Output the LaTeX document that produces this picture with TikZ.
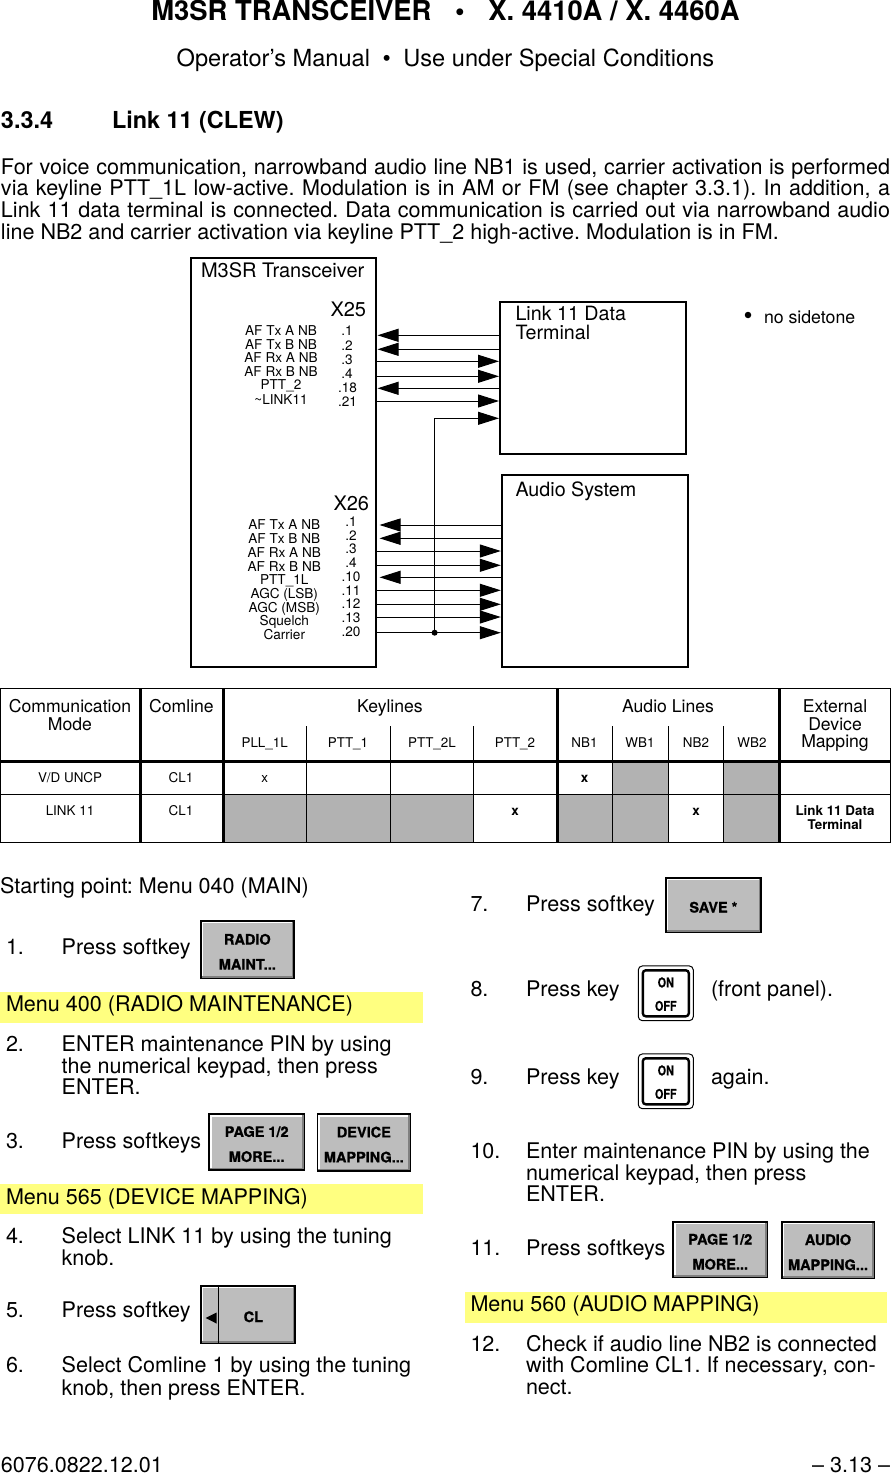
\documentclass[tikz,border=0pt]{standalone}
\usepackage{fontspec}
\usepackage{graphicx}
\setmainfont{TeX Gyre Heros}
\newfontfamily\keyfont[BoldFeatures={FakeBold=1}]{TeX Gyre Heros}
\usetikzlibrary{arrows.meta}
\definecolor{tblgray}{HTML}{B2B2B2}
\definecolor{keygray}{HTML}{BDBDBD}
\definecolor{menuyellow}{HTML}{FFFF80}
\newcommand\fz[1]{\fontsize{#1}{#1}\selectfont}
% name, anchor/style, x, y, text
\newcommand\tx[5]{\node[txt,#2] (#1) at (#3,#4) {#5};}
\newcommand\softkey[6]{\node[softkeybox,minimum width={(#4-#2-1.4)*1pt},minimum height={(#5-#3-1.4)*1pt}] (#1) at ({(#2+#4)/2},{(#3+#5)/2}) {};
  \node[softkeytext] (#1t) at ([yshift=-2.1pt]#1.center) {#6};}
\newcommand\onoff[2]{\node[onoffbox] (#1) at (665.8,#2) {};
  \node[onoffin] (#1i) at (#1.center) {};
  \node[onofftext] (#1t) at ([yshift=-0.9pt]#1.center) {\scalebox{.8}[1]{ON}\\\scalebox{.8}[1]{OFF}};}
\tikzset{
  txt/.style={inner sep=0pt,outer sep=0pt,anchor=base west,text depth=0pt},
  body/.style={font=\fz{21.55}},
  ctr/.style={anchor=base},
  sig/.style={font=\fz{13.6},anchor=base},
  big/.style={font=\fz{19.7}},
  tbl/.style={font=\fz{17.6},anchor=base},
  tsm/.style={font=\fz{13.4},anchor=base},
  tsb/.style={font=\fz{13.4}\bfseries,anchor=base},
  unit/.style={draw=black,line width=2pt,fill=white,inner sep=0pt,outer sep=0pt},
  wire/.style={draw=black,line width=1pt},
  toR/.style={wire,-{Triangle[length=21pt,width=13pt]},shorten >=1.2pt},
  toL/.style={wire,-{Triangle[length=21pt,width=13pt]},shorten >=2pt},
  thin line/.style={draw=black,line width=1pt},
  thick line/.style={draw=black,line width=3pt},
  softkeybox/.style={draw=black,line width=1.6pt,fill=keygray,inner sep=0pt,outer sep=0pt,
    path picture={
      \draw[white,line width=5pt] (path picture bounding box.south west)--(path picture bounding box.north west)--(path picture bounding box.north east);
      \draw[black!50,line width=5pt] (path picture bounding box.south west)--(path picture bounding box.south east)--(path picture bounding box.north east);
    }},
  softkeytext/.style={inner sep=0pt,align=center,font=\fontsize{14.5}{25}\selectfont\keyfont\bfseries},
  onoffbox/.style={draw=black,line width=1pt,rounded corners=4pt,fill=white,inner sep=0pt,outer sep=0pt,
    minimum width=55pt,minimum height=54.7pt},
  onoffin/.style={draw=black,line width=2.4pt,rounded corners=3pt,inner sep=0pt,minimum width=46pt,minimum height=46pt},
  onofftext/.style={inner sep=0pt,align=center,font=\fontsize{13.5}{23.5}\selectfont\keyfont\bfseries},
  band/.style={fill=menuyellow,draw=none},
}
\begin{document}
\frenchspacing
\begin{tikzpicture}[x=1pt,y=-1pt]
\useasboundingbox (0,0) rectangle (891,1474);
% page head
\tx{title}{ctr,font=\fz{27.4}\bfseries}{445.5}{20.5}{M3SR TRANSCEIVER\hspace{16pt} •\hspace{16pt} X. 4410A / X. 4460A}
\tx{sub}{ctr,font=\fz{23.6}}{445.5}{67}{Operator’s Manual\hspace{6pt} •\hspace{6pt} Use under Special Conditions}
\tx{secnum}{font=\fz{23.4}\bfseries}{1}{129}{3.3.4}
\tx{sectitle}{font=\fz{23.4}\bfseries}{112}{129}{Link 11 (CLEW)}
\tx{p1}{body}{1}{174.2}{\makebox[889pt][s]{For voice communication, narrowband audio line NB1 is used, carrier activation is performed}}
\tx{p2}{body}{1}{196}{\makebox[889pt][s]{via keyline PTT\_1L low-active. Modulation is in AM or FM (see chapter 3.3.1). In addition, a}}
\tx{p3}{body}{1}{217.2}{\makebox[889pt][s]{Link 11 data terminal is connected. Data communication is carried out via narrowband audio}}
\tx{p4}{body}{1}{239}{line NB2 and carrier activation via keyline PTT\_2 high-active. Modulation is in FM.}
% block diagram
\node[unit,minimum width=185pt,minimum height=409pt] (tr) at (283,462.5) {};
\node[unit,minimum width=186pt,minimum height=152pt] (link) at (593.2,378) {};
\node[unit,minimum width=186pt,minimum height=192pt] (audio) at (595,571) {};
\tx{trt}{big,font=\fz{20}}{201}{277}{M3SR Transceiver}
\tx{x25}{big,font=\fz{20}}{330.5}{316}{X25}
\tx{x26}{big,font=\fz{20}}{333.5}{510}{X26}
\tx{lk1}{big}{515.5}{320.5}{Link 11 Data}
\tx{lk2}{big}{515.5}{339}{Terminal}
\tx{aud}{big}{515.5}{496}{Audio System}
\node[circle,fill=black,inner sep=0pt,minimum size=6.5pt] (bul) at (748,315) {};
\tx{nosd}{font=\fz{17.7}}{764}{323}{no sidetone}
\tx{a1}{sig}{281}{335.7}{AF Tx A NB}
\tx{a2}{sig}{281}{349}{AF Tx B NB}
\tx{a3}{sig}{281}{362.1}{AF Rx A NB}
\tx{a4}{sig}{281}{376.4}{AF Rx B NB}
\tx{a5}{sig}{281}{389.5}{PTT\_2}
\tx{a6}{sig}{281}{404.7}{\textasciitilde LINK11}
\tx{p1a}{sig}{347}{335}{.1}
\tx{p2a}{sig}{347}{350.7}{.2}
\tx{p3a}{sig}{347}{364.3}{.3}
\tx{p4a}{sig}{347}{378.7}{.4}
\tx{p5a}{sig}{347.5}{392.7}{.18}
\tx{p6a}{sig}{347.5}{406.7}{.21}
\tx{b1}{sig}{284.3}{529.7}{AF Tx A NB}
\tx{b2}{sig}{284.3}{543.3}{AF Tx B NB}
\tx{b3}{sig}{284.3}{557.3}{AF Rx A NB}
\tx{b4}{sig}{284.3}{571.3}{AF Rx B NB}
\tx{b5}{sig}{284.3}{584}{PTT\_1L}
\tx{b6}{sig}{284.3}{598.3}{AGC (LSB)}
\tx{b7}{sig}{284.3}{612.2}{AGC (MSB)}
\tx{b8}{sig}{284.3}{625}{Squelch}
\tx{b9}{sig}{284.3}{639}{Carrier}
\tx{p1b}{sig}{351}{526.7}{.1}
\tx{p2b}{sig}{351}{540}{.2}
\tx{p3b}{sig}{351}{553.3}{.3}
\tx{p4b}{sig}{351}{567.3}{.4}
\tx{p5b}{sig}{351}{581.7}{.10}
\tx{p6b}{sig}{351}{595.2}{.11}
\tx{p7b}{sig}{351}{608.8}{.12}
\tx{p8b}{sig}{351}{622.5}{.13}
\tx{p9b}{sig}{351}{636.5}{.20}
% connectors X25 <-> Link terminal
\foreach \y in {335.3,349.3,388.3}{
  \coordinate (lev) at (0,\y);
  \draw[toL] (link.west |- lev) -- (tr.east |- lev);
}
\foreach \y in {361.3,376.3,401}{
  \coordinate (lev) at (0,\y);
  \draw[toR] (tr.east |- lev) -- (link.west |- lev);
}
% connectors X26 <-> Audio system
\foreach \y in {525,538.3,577.3}{
  \coordinate (lev) at (0,\y);
  \draw[toL,shorten >=4pt] (audio.west |- lev) -- (tr.east |- lev);
}
\foreach \y in {551,565.3,590.3,604.3,617,632.7}{
  \coordinate (lev) at (0,\y);
  \draw[toR] (tr.east |- lev) -- (audio.west |- lev);
}
\node[circle,fill=black,inner sep=0pt,minimum size=6pt] (jn) at (434.6,632.7) {};
\coordinate (lv) at (0,418.3);
\draw[toR] (jn.center) -- (jn.center |- lv) -- (link.west |- lv);
% table
\fill[tblgray] (223,794.3) rectangle (473.3,842.3);
\fill[tblgray] (557,794.3) rectangle (668.3,842.3);
\fill[tblgray] (723.3,794.3) rectangle (779,842.3);
\fill[tblgray] (612.7,761.7) rectangle (668.3,794.3);
\fill[tblgray] (723.3,761.7) rectangle (779,794.3);
\draw[thin line] (0,688.3) -- (891,688.3);
\draw[thin line] (0,794.3) -- (891,794.3);
\draw[thin line] (0,842.3) -- (891,842.3);
\draw[thin line] (0.5,688.3) -- (0.5,842.3);
\draw[thin line] (890.5,688.3) -- (890.5,842.3);
\foreach \x in {306.3,390.3,473.3,612.7,668.3,723.3}{\draw[thin line] (\x,726) -- (\x,842.3);}
\foreach \x in {140,223,557,779}{\draw[thick line] (\x,688.3) -- (\x,842.3);}
\draw[thick line] (0,761.7) -- (891,761.7);
\tx{h1}{tbl}{70}{712.7}{Communication}
\tx{h1b}{tbl}{70}{730}{Mode}
\tx{h2}{tbl}{181.5}{712.7}{Comline}
\tx{h3}{tbl}{390}{712.7}{Keylines}
\tx{h4}{tbl}{668}{712.7}{Audio Lines}
\tx{h5}{tbl}{835}{712.7}{External}
\tx{h5b}{tbl}{835}{730}{Device}
\tx{h5c}{tbl}{835}{747.7}{Mapping}
\tx{s1}{tsm}{264.7}{747.3}{PLL\_1L}
\tx{s2}{tsm}{348}{747.3}{PTT\_1}
\tx{s3}{tsm}{432}{747.3}{PTT\_2L}
\tx{s4}{tsm}{515}{747.3}{PTT\_2}
\tx{s5}{tsm}{584.5}{747.3}{NB1}
\tx{s6}{tsm}{640}{747.3}{WB1}
\tx{s7}{tsm}{696}{747.3}{NB2}
\tx{s8}{tsm}{752}{747.3}{WB2}
\tx{r1a}{tsm}{70}{782.4}{V/D UNCP}
\tx{r1b}{tsm}{181}{782.4}{CL1}
\tx{r1c}{tsm}{264.7}{782.4}{x}
\tx{r1d}{tsb}{584.5}{782.4}{x}
\tx{r2a}{tsm}{70}{815.5}{LINK 11}
\tx{r2b}{tsm}{181}{815.5}{CL1}
\tx{r2c}{tsb}{515}{815.5}{x}
\tx{r2d}{tsb}{696}{815.5}{x}
\tx{r2e}{tsb}{835}{815.4}{Link 11 Data}
\tx{r2f}{tsb}{835}{829}{Terminal}
% left column
\fill[band] (0,992) rectangle (423,1023);
\fill[band] (0,1184) rectangle (423,1214.3);
\tx{start}{body}{0}{893}{Starting point: Menu 040 (MAIN)}
\tx{n1}{body}{6}{954}{1.}
\tx{t1}{body}{61.7}{954}{Press softkey}
\softkey{kradio}{200}{920}{294.7}{979.3}{RADIO\\MAINT...}
\tx{m400}{body}{6}{1011}{Menu 400 (RADIO MAINTENANCE)}
\tx{n2}{body}{6}{1051}{2.}
\tx{t2a}{body}{61.7}{1051}{ENTER maintenance PIN by using}
\tx{t2b}{body}{61.7}{1073}{the numerical keypad, then press}
\tx{t2c}{body}{61.7}{1094}{ENTER.}
\tx{n3}{body}{6}{1148}{3.}
\tx{t3}{body}{61.7}{1148}{Press softkeys}
\softkey{kpage}{208.3}{1113.3}{305}{1170.7}{PAGE 1/2\\MORE...}
\softkey{kdev}{316.7}{1113.3}{411}{1171.7}{DEVICE\\MAPPING...}
\tx{m565}{body}{6}{1204}{Menu 565 (DEVICE MAPPING)}
\tx{n4}{body}{6}{1243}{4.}
\tx{t4a}{body}{61.7}{1243}{Select LINK 11 by using the tuning}
\tx{t4b}{body}{61.7}{1265}{knob.}
\tx{n5}{body}{6}{1317}{5.}
\tx{t5}{body}{61.7}{1317}{Press softkey}
\softkey{kcl}{200}{1285}{295.7}{1344.3}{\hspace{11pt}CL}
\draw[black,line width=1pt] (218.3,1286) -- (218.3,1343.5);
\fill[black] (205.7,1318) -- (216.5,1312.5) -- (216.5,1323.5) -- cycle;
\tx{n6}{body}{6}{1372}{6.}
\tx{t6a}{body}{61.7}{1372}{Select Comline 1 by using the tuning}
\tx{t6b}{body}{61.7}{1395}{knob, then press ENTER.}
% right column
\fill[band] (465,1292) rectangle (887,1323);
\tx{n7}{body}{470.5}{911}{7.}
\tx{t7}{body}{526}{911}{Press softkey}
\softkey{ksave}{665}{877}{761.7}{933.3}{SAVE *}
\tx{n8}{body}{470.5}{996}{8.}
\tx{t8}{body}{526}{996}{Press key}
\onoff{kon1}{993.3}
\tx{t8b}{body}{711}{996}{(front panel).}
\tx{n9}{body}{470.5}{1084}{9.}
\tx{t9}{body}{526}{1084}{Press key}
\onoff{kon2}{1081.3}
\tx{t9b}{body}{711}{1084}{again.}
\tx{n10}{body}{470.5}{1158}{10.}
\tx{t10a}{body}{526}{1158}{Enter maintenance PIN by using the}
\tx{t10b}{body}{526}{1180}{numerical keypad, then press}
\tx{t10c}{body}{526}{1201}{ENTER.}
\tx{n11}{body}{470.5}{1255}{11.}
\tx{t11}{body}{526}{1255}{Press softkeys}
\softkey{kpage2}{672.3}{1221}{768.3}{1278.3}{PAGE 1/2\\MORE...}
\softkey{kaudio}{781}{1221}{875}{1279.3}{AUDIO\\MAPPING...}
\tx{m560}{body}{470.5}{1311}{Menu 560 (AUDIO MAPPING)}
\tx{n12}{body}{470.5}{1351}{12.}
\tx{t12a}{body}{526}{1351}{Check if audio line NB2 is connected}
\tx{t12b}{body}{526}{1372}{with Comline CL1. If necessary, con-}
\tx{t12c}{body}{526}{1394}{nect.}
% page foot
\tx{foot1}{body}{1}{1472}{6076.0822.12.01}
\tx{foot2}{body,anchor=base east}{890}{1472}{– 3.13 –}
\end{tikzpicture}
\end{document}
